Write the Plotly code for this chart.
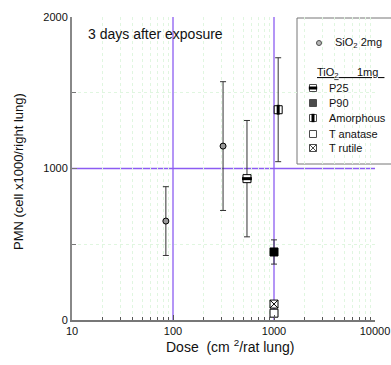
import plotly.graph_objects as go

# ---- data ----
sio2_dose = [85, 313]
sio2_pmn = [653, 1148]
sio2_err = [227, 425]

tio2_names = ["P25", "P90", "Amorphous", "Tanatase", "Trutile"]
tio2_dose = [540, 1000, 1100, 1000, 1000]
tio2_pmn = [933, 449, 1388, 45, 105]
tio2_err = [384, 80, 343, 20, 12]

x_ticks = [10, 100, 1000, 10000]
y_ticks = [0, 1000, 2000]
x_minor = [m * 10 ** d for d in (1, 2, 3) for m in range(2, 10)]
y_minor = [500, 1500]

W, H = 391, 365
L, R, T, B = 72, 16, 17, 45
FONT = "Liberation Sans, Arial, sans-serif"
PURPLE = "#8c5cf2"
GRID = "#e0f6e0"

fig = go.Figure()

err_style = dict(type="data", thickness=1, width=3, color="#333")

# SiO2
fig.add_trace(go.Scatter(
    x=sio2_dose, y=sio2_pmn, mode="markers",
    error_y=dict(array=sio2_err, **err_style),
    marker=dict(symbol="circle", size=6, color="#999", line=dict(color="black", width=1)),
    showlegend=False))

sym_base = {"P25": ("square", "white"), "P90": ("square", "black"),
            "Amorphous": ("square", "white"), "Tanatase": ("square", "white"),
            "Trutile": ("square-x", "white")}
overlay = {"P25": "line-ew", "Amorphous": "line-ns"}

for i, n in enumerate(tio2_names):
    s, c = sym_base[n]
    fig.add_trace(go.Scatter(
        x=[tio2_dose[i]], y=[tio2_pmn[i]], mode="markers",
        error_y=dict(array=[tio2_err[i]], **err_style),
        marker=dict(symbol=s, size=8, color=c, line=dict(color="black", width=1)),
        showlegend=False))
    if n in overlay:
        fig.add_trace(go.Scatter(
            x=[tio2_dose[i]], y=[tio2_pmn[i]], mode="markers",
            marker=dict(symbol=overlay[n], size=7, line=dict(color="black", width=3)),
            showlegend=False, hoverinfo="skip"))

# reference lines
for xv in [100, 1000]:
    fig.add_shape(type="line", xref="x", yref="paper", x0=xv, x1=xv, y0=0, y1=1,
                  line=dict(color=PURPLE, width=1.3), layer="between")
fig.add_shape(type="line", xref="paper", yref="y", x0=0, x1=1, y0=1000, y1=1000,
              line=dict(color=PURPLE, width=1.3), layer="between")

# ---- legend box (manual) ----
pw = W - L - R
ph = H - T - B
def px(xp):
    return (xp - L) / pw
def py(yp):
    return 1 - (yp - T) / ph

fig.add_shape(type="rect", xref="paper", yref="paper",
              x0=px(297), x1=px(420), y0=py(164), y1=py(18),
              line=dict(color="#777", width=1), fillcolor="white", layer="between")

leg_key_x = [319, 313, 313, 313, 313, 313]
leg_key_y = [43, 88, 103, 118, 134, 148]
leg_sym = ["circle", "square", "square", "square", "square", "square-x"]
leg_col = ["#999", "white", "black", "white", "white", "white"]
leg_size = [5, 7, 7, 7, 7, 7]
leg_text = ["SiO<sub>2</sub> 2mg", "P25", "P90", "Amorphous", "T anatase", "T rutile"]
leg_text_x = [333, 327, 327, 327, 327, 327]

fig.add_trace(go.Scatter(
    x=leg_key_x, y=leg_key_y, xaxis="x2", yaxis="y2", mode="markers",
    marker=dict(symbol=leg_sym, size=leg_size, color=leg_col, line=dict(color="black", width=1)),
    showlegend=False, hoverinfo="skip", cliponaxis=False))
fig.add_trace(go.Scatter(
    x=[leg_key_x[1], leg_key_x[3]], y=[leg_key_y[1], leg_key_y[3]], xaxis="x2", yaxis="y2",
    mode="markers",
    marker=dict(symbol=["line-ew", "line-ns"], size=6, line=dict(color="black", width=3)),
    showlegend=False, hoverinfo="skip", cliponaxis=False))

for t, xx, yy in zip(leg_text, leg_text_x, leg_key_y):
    fig.add_annotation(x=px(xx), y=py(yy), xref="paper", yref="paper", text=t,
                       showarrow=False, xanchor="left", yanchor="middle",
                       font=dict(family=FONT, size=11, color="#111"))
fig.add_annotation(x=px(315), y=py(73), xref="paper", yref="paper",
                   text="<u>TiO<sub>2</sub>      1mg  </u>",
                   showarrow=False, xanchor="left", yanchor="middle",
                   font=dict(family=FONT, size=11, color="#111"))

fig.add_annotation(x=px(86), y=py(34), xref="paper", yref="paper",
                   text="3 days after exposure", showarrow=False,
                   xanchor="left", yanchor="middle",
                   font=dict(family=FONT, size=14, color="#111"))

fig.add_annotation(x=px(230), y=py(346), xref="paper", yref="paper",
                   text="Dose  (cm <sup>2</sup>/rat lung)", showarrow=False,
                   xanchor="center", yanchor="middle",
                   font=dict(family=FONT, size=14, color="#111"))
fig.add_annotation(x=px(18), y=py(172), xref="paper", yref="paper",
                   text="PMN (cell x1000/right lung)", showarrow=False, textangle=-90,
                   xanchor="center", yanchor="middle",
                   font=dict(family=FONT, size=13, color="#111"))

fig.update_layout(
    width=W, height=H, margin=dict(l=L, r=R, t=T, b=B, autoexpand=False),
    paper_bgcolor="white", plot_bgcolor="white", showlegend=False,
    xaxis=dict(type="log", range=[1, 4], tickvals=x_ticks, ticktext=[str(v) for v in x_ticks],
               ticks="inside", ticklen=5, tickcolor="#555", showline=True, linecolor="#777",
               linewidth=2, showgrid=False, zeroline=False,
               tickfont=dict(family=FONT, size=11, color="#111"),
               minor=dict(tickmode="array", tickvals=x_minor, ticks="inside", ticklen=3,
                          tickcolor="#555", showgrid=True, gridcolor=GRID, griddash="dot",
                          gridwidth=1)),
    yaxis=dict(range=[0, 2000], tickvals=y_ticks, ticks="inside", ticklen=5, tickcolor="#777",
               showline=True, linecolor="#888", linewidth=2, showgrid=False, zeroline=False,
               tickfont=dict(family=FONT, size=11, color="#111"),
               minor=dict(tickmode="array", tickvals=y_minor, ticks="inside", ticklen=4,
                          tickcolor="#777", showgrid=True, gridcolor=GRID, griddash="dot",
                          gridwidth=1)),
    xaxis2=dict(domain=[0, 1], range=[L, W - R], visible=False, overlaying="x",
                anchor="y2", fixedrange=True),
    yaxis2=dict(domain=[0, 1], range=[H - B, T], visible=False, overlaying="y",
                anchor="x2", fixedrange=True),
)

fig.write_html("out.html", config={"displayModeBar": False},
               post_script="document.body.style.margin='0';")
